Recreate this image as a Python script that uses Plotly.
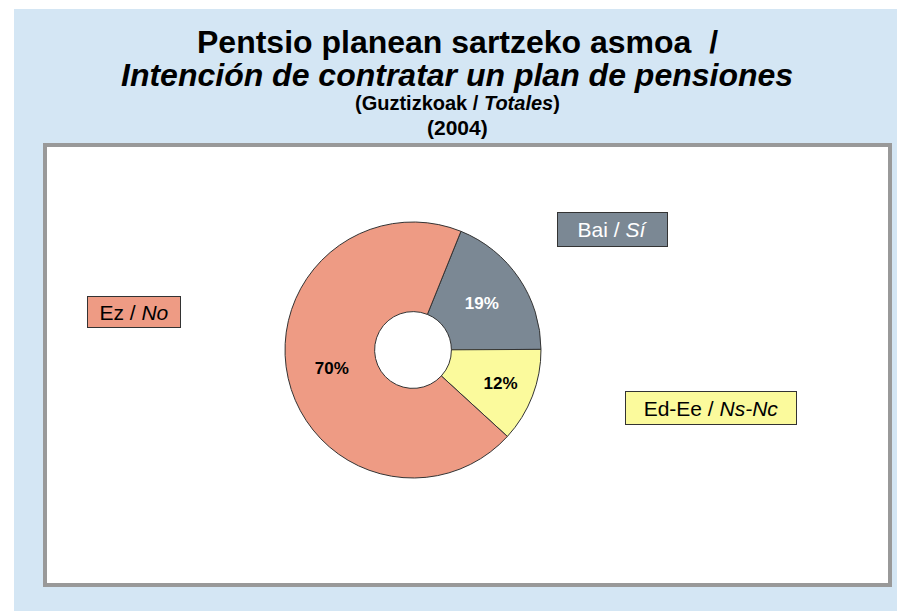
import plotly.graph_objects as go

# ---- data ----
labels = ["Bai / <i>Sí</i>", "Ed-Ee / <i>Ns-Nc</i>", "Ez / <i>No</i>"]
values = [19, 12, 70]
slice_colors = ["#7B8894", "#FBFA9C", "#EE9B84"]
pct_text_colors = ["white", "black", "black"]
title_lines = [
    "<b>Pentsio planean sartzeko asmoa  /</b>",
    "<b><i>Intención de contratar un plan de pensiones</i></b>",
    "<b>(Guztizkoak / <i>Totales</i>)</b>",
    "<b>(2004)</b>",
]

W, H = 905, 611
OFF = 8  # page body margin
FONT = "Liberation Sans, Arial, sans-serif"


def px(x):
    return (x - OFF) / W


def py(y):
    return 1 - (y - OFF) / H


fig = go.Figure()

cx, cy, r = 413, 350, 128
fig.add_trace(go.Pie(
    labels=labels,
    values=values,
    sort=False,
    direction="clockwise",
    rotation=22,
    hole=0.3,
    marker=dict(colors=slice_colors, line=dict(color="#333333", width=1)),
    text=[f"<b>{v}%</b>" for v in values],
    textinfo="text",
    textposition="inside",
    insidetextorientation="horizontal",
    textfont=dict(family=FONT, size=17, color=pct_text_colors),
    hoverinfo="skip",
    showlegend=False,
    domain=dict(x=[px(cx - r), px(cx + r)], y=[py(cy + r), py(cy - r)]),
))

shapes = [
    dict(type="rect", xref="paper", yref="paper", x0=px(14), x1=1.0, y0=0, y1=py(9),
         fillcolor="#D4E6F4", line=dict(width=0), layer="below"),
    dict(type="rect", xref="paper", yref="paper", x0=px(45), x1=px(890), y0=py(585), y1=py(145),
         fillcolor="white", line=dict(color="#999999", width=4), layer="below"),
]

annotations = []
title_y = [42, 75, 103, 128]
title_size = [32, 32, 20, 21]
for t, yy, sz in zip(title_lines, title_y, title_size):
    annotations.append(dict(text=t, x=px(457), y=py(yy), xref="paper", yref="paper",
                            xanchor="center", yanchor="middle", showarrow=False,
                            font=dict(family=FONT, size=sz, color="black")))

# label boxes: (center x, center y, width, height, text colour) per category
box_cx = [612.5, 711, 134]
box_cy = [229.5, 408, 312]
box_w = [111, 172, 94]
box_h = [35, 34, 32]
box_font = ["white", "black", "black"]
for lab, col, bx, by, bw, bh, fc in zip(labels, slice_colors, box_cx, box_cy, box_w, box_h, box_font):
    annotations.append(dict(text=lab, x=px(bx), y=py(by), xref="paper", yref="paper",
                            xanchor="center", yanchor="middle", showarrow=False,
                            width=bw - 4, height=bh - 4, borderpad=1, borderwidth=1,
                            bordercolor="#333333", bgcolor=col,
                            font=dict(family=FONT, size=21, color=fc)))

fig.update_layout(
    width=W, height=H,
    margin=dict(l=0, r=0, t=0, b=0),
    paper_bgcolor="white",
    plot_bgcolor="white",
    shapes=shapes,
    annotations=annotations,
)

fig.write_html("out.html")
